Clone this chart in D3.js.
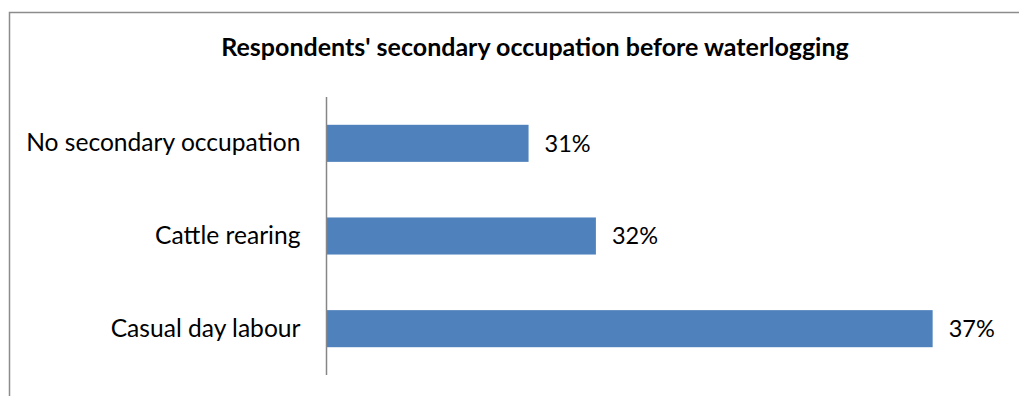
<!DOCTYPE html>
<html>
<head>
<meta charset="utf-8">
<script src="https://cdn.jsdelivr.net/npm/d3@7"></script>
<style>
  html, body { margin: 0; padding: 0; background: #fff; }
  svg { display: block; }
</style>
</head>
<body>
<svg id="chart" width="1019" height="396"></svg>
<script>
// Secondary occupation shares (fractions), listed top to bottom
const categories = ["No secondary occupation", "Cattle rearing", "Casual day labour"];
const shares = [0.31, 0.32, 0.37];
const chartTitle = "Respondents' secondary occupation before waterlogging";

const W = 1019, H = 396;
const svg = d3.select("#chart");
const font = "Lato, 'Open Sans', sans-serif";

// Outer chart frame
svg.append("rect")
  .attr("x", 9.5).attr("y", 12.5)
  .attr("width", W + 20).attr("height", H + 20)
  .attr("fill", "#fff")
  .attr("stroke", "#8c8c8c")
  .attr("stroke-width", 1.5);

// Title
svg.append("text")
  .attr("x", 535).attr("y", 56)
  .attr("text-anchor", "middle")
  .attr("font-family", font)
  .attr("font-weight", "bold")
  .attr("font-size", 25)
  .attr("fill", "#000")
  .text(chartTitle);

const plot = { left: 326.5, right: 1000, top: 97, bottom: 375 };

const x = d3.scaleLinear()
  .domain([0.28, 0.38])
  .range([plot.left, plot.right]);

const y = d3.scaleBand()
  .domain(categories)
  .range([plot.top, plot.bottom])
  .paddingInner(0.6)
  .paddingOuter(0.3);

// Bars
svg.append("g")
  .selectAll("rect")
  .data(categories)
  .join("rect")
  .attr("x", x(0.28))
  .attr("y", d => y(d))
  .attr("width", (d, i) => x(shares[i]) - x(0.28))
  .attr("height", y.bandwidth())
  .attr("fill", "#4f81bd");

// Value labels
svg.append("g")
  .selectAll("text")
  .data(categories)
  .join("text")
  .attr("x", (d, i) => x(shares[i]) + 16)
  .attr("y", d => y(d) + y.bandwidth() / 2)
  .attr("dy", "0.35em")
  .attr("font-family", font)
  .attr("font-size", 23.5)
  .attr("fill", "#000")
  .text((d, i) => d3.format(".0%")(shares[i]));

// Category axis
const yAxis = d3.axisLeft(y).tickSize(0).tickPadding(26);
const gy = svg.append("g")
  .attr("transform", `translate(${plot.left},0)`)
  .call(yAxis);
gy.select(".domain")
  .attr("d", `M0,${plot.top}V${plot.bottom}`)
  .attr("stroke", "#868686")
  .attr("stroke-width", 1.5);
gy.selectAll(".tick text")
  .attr("font-family", font)
  .attr("font-size", 24.6)
  .attr("fill", "#000");
</script>
</body>
</html>
